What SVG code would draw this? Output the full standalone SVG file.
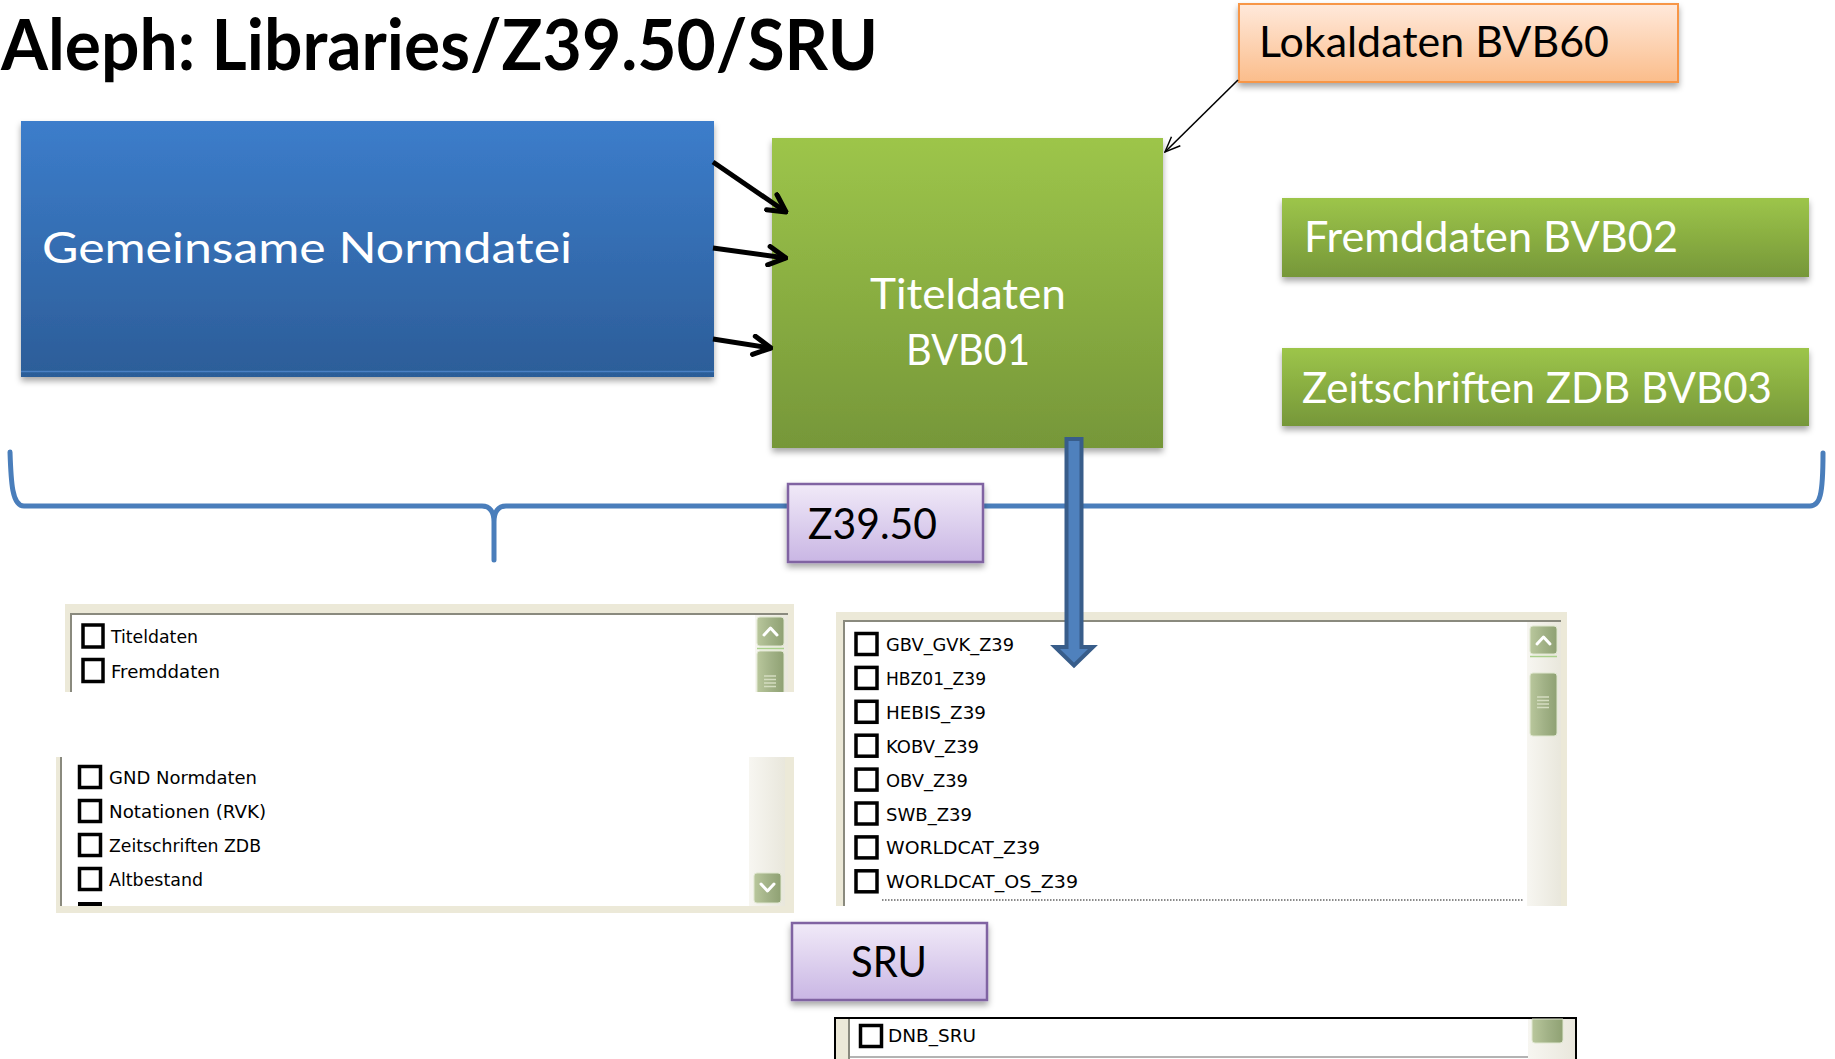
<svg xmlns="http://www.w3.org/2000/svg" width="1835" height="1059" viewBox="0 0 1835 1059">
<style>
.lbl{font-family:Lato,"Open Sans","Liberation Sans",sans-serif;font-size:42px;}
.wht{fill:#fff;}
.blk{fill:#000;}
.item{font-family:"DejaVu Sans","Liberation Sans",sans-serif;font-size:18px;fill:#000;}
.cb{fill:#fff;stroke:#000;stroke-width:3.5;}
.beige{fill:#ece9d8;}
.sunk{stroke:#8a8a7e;stroke-width:2;fill:none;}
.olive{fill:url(#gOlive);stroke:#dfe6cf;stroke-width:1;}
.chev{fill:none;stroke:#fff;stroke-width:3;stroke-linecap:round;stroke-linejoin:round;}
.grip{stroke:#d4ddc0;stroke-width:1.5;}
.conn{fill:none;stroke:#000;stroke-width:5;marker-end:url(#head);}
</style>
<defs>
<linearGradient id="gBlue" x1="0" y1="0" x2="0" y2="1"><stop offset="0" stop-color="#3c7dcb"/><stop offset="1" stop-color="#2c5d98"/></linearGradient>
<linearGradient id="gGreen" x1="0" y1="0" x2="0" y2="1"><stop offset="0" stop-color="#9dc54a"/><stop offset="1" stop-color="#769739"/></linearGradient>
<linearGradient id="gOrange" x1="0" y1="0" x2="0" y2="1"><stop offset="0" stop-color="#ffe9db"/><stop offset="1" stop-color="#fbbd8b"/></linearGradient>
<linearGradient id="gPurple" x1="0" y1="0" x2="0" y2="1"><stop offset="0" stop-color="#f1eaf8"/><stop offset="1" stop-color="#c9b6e4"/></linearGradient>
<linearGradient id="gOlive" x1="0" y1="0" x2="1" y2="0"><stop offset="0" stop-color="#b9c79c"/><stop offset="0.5" stop-color="#a2b287"/><stop offset="1" stop-color="#8fa173"/></linearGradient>
<linearGradient id="gTrack" x1="0" y1="0" x2="1" y2="0"><stop offset="0" stop-color="#f7f6f1"/><stop offset="1" stop-color="#e9e7dc"/></linearGradient>
<filter id="sh" x="-5%" y="-10%" width="110%" height="130%"><feDropShadow dx="0" dy="4" stdDeviation="3" flood-color="#000" flood-opacity="0.35"/></filter>
<marker id="head" viewBox="0 0 10 10" refX="9" refY="5" markerWidth="4.6" markerHeight="4.6" orient="auto"><path d="M1.5,1 L9,5 L1.5,9" fill="none" stroke="#000" stroke-width="2.2" stroke-linecap="round" stroke-linejoin="round"/></marker>
<marker id="thin" viewBox="0 0 20 20" refX="19" refY="10" markerWidth="18" markerHeight="18" markerUnits="userSpaceOnUse" orient="auto"><path d="M2,3 L19,10 L2,17" fill="none" stroke="#000" stroke-width="1.6"/></marker>
<clipPath id="clipTL"><rect x="0" y="600" width="820" height="92"/></clipPath>
</defs>

<g id="title">
<text x="1" y="70" font-family="Lato,'Open Sans','Liberation Sans',sans-serif" font-weight="bold" font-size="70" textLength="877" lengthAdjust="spacingAndGlyphs">Aleph: Libraries/Z39.50/SRU</text>
</g>

<g id="brace">
<path d="M10 452 C11 482 12 506 24 506 L482 506 C490 506 494 512 494 522 L494 560 M494 522 C494 512 498 506 506 506 L1810 506 C1820 506 1823 495 1823 453" fill="none" stroke="#4a7ebb" stroke-width="5" stroke-linecap="round" stroke-linejoin="round"/>
</g>

<g id="gnd">
<rect x="21" y="121" width="693" height="256" fill="url(#gBlue)" filter="url(#sh)"/>
<line x1="21" y1="371.5" x2="714" y2="371.5" stroke="#4a80c4" stroke-width="1.5"/>
<text class="lbl wht" x="42" y="263" textLength="530" lengthAdjust="spacingAndGlyphs">Gemeinsame Normdatei</text>
</g>

<g id="titeldaten">
<rect x="772" y="138" width="391" height="310" fill="url(#gGreen)" filter="url(#sh)"/>
<text class="lbl wht" x="968" y="309" text-anchor="middle" textLength="196" lengthAdjust="spacingAndGlyphs">Titeldaten</text>
<text class="lbl wht" x="968" y="365" text-anchor="middle" textLength="124" lengthAdjust="spacingAndGlyphs">BVB01</text>
</g>

<g id="lokaldaten">
<rect x="1239" y="4" width="439" height="78" fill="url(#gOrange)" stroke="#f79646" stroke-width="2" filter="url(#sh)"/>
<text class="lbl blk" x="1259" y="57" font-size="40" textLength="350" lengthAdjust="spacingAndGlyphs">Lokaldaten BVB60</text>
</g>

<g id="fremddaten">
<rect x="1282" y="198" width="527" height="79" fill="url(#gGreen)" filter="url(#sh)"/>
<text class="lbl wht" x="1304" y="252" font-size="41" textLength="374" lengthAdjust="spacingAndGlyphs">Fremddaten BVB02</text>
</g>

<g id="zeitschriften">
<rect x="1282" y="348" width="527" height="78" fill="url(#gGreen)" filter="url(#sh)"/>
<text class="lbl wht" x="1302" y="403" textLength="470" lengthAdjust="spacingAndGlyphs">Zeitschriften ZDB BVB03</text>
</g>

<g id="z3950">
<rect x="788" y="484" width="195" height="78" fill="url(#gPurple)" stroke="#8064a2" stroke-width="2.5" filter="url(#sh)"/>
<text class="lbl blk" x="808" y="539" textLength="129" lengthAdjust="spacingAndGlyphs">Z39.50</text>
</g>

<g id="sru">
<rect x="792" y="923" width="195" height="77" fill="url(#gPurple)" stroke="#8064a2" stroke-width="2.5" filter="url(#sh)"/>
<text class="lbl blk" x="889" y="977" font-size="38" text-anchor="middle" textLength="76" lengthAdjust="spacingAndGlyphs">SRU</text>
</g>

<g id="list-local" clip-path="url(#clipTL)">
<rect class="beige" x="65" y="604" width="729" height="90"/>
<rect x="71" y="614" width="717" height="80" fill="#fff"/>
<path class="sunk" d="M71 694 L71 614 L788 614"/>
<rect x="755" y="615" width="33" height="79" fill="url(#gTrack)"/>
<rect class="olive" x="757" y="617" width="27" height="29" rx="3"/>
<polyline class="chev" points="764,635 770.5,628 777,635"/>
<line x1="757" y1="648.5" x2="784" y2="648.5" stroke="#a9d08a" stroke-width="1.5"/>
<rect class="olive" x="757" y="651" width="27" height="60" rx="3"/>
<line class="grip" x1="764" y1="676" x2="776" y2="676"/>
<line class="grip" x1="764" y1="679.5" x2="776" y2="679.5"/>
<line class="grip" x1="764" y1="683" x2="776" y2="683"/>
<line class="grip" x1="764" y1="686.5" x2="776" y2="686.5"/>
<rect class="cb" x="83" y="625" width="20" height="22"/>
<text class="item" x="111" y="643" textLength="87" lengthAdjust="spacingAndGlyphs">Titeldaten</text>
<rect class="cb" x="83" y="659.5" width="20" height="22"/>
<text class="item" x="111" y="678" textLength="109" lengthAdjust="spacingAndGlyphs">Fremddaten</text>
</g>

<g id="list-bvb">
<rect class="beige" x="56" y="757" width="738" height="156"/>
<rect x="62" y="757" width="688" height="149" fill="#fff"/>
<line class="sunk" x1="61" y1="757" x2="61" y2="906"/>
<rect x="749" y="757" width="36" height="149" fill="url(#gTrack)"/>
<rect class="olive" x="754" y="873" width="27" height="30" rx="3"/>
<polyline class="chev" points="761,884 767.5,891 774,884"/>
<rect class="cb" x="79.5" y="766.5" width="21" height="21"/>
<text class="item" x="109" y="784" textLength="148" lengthAdjust="spacingAndGlyphs">GND Normdaten</text>
<rect class="cb" x="79.5" y="800.5" width="21" height="21"/>
<text class="item" x="109" y="818" textLength="157" lengthAdjust="spacingAndGlyphs">Notationen (RVK)</text>
<rect class="cb" x="79.5" y="834.5" width="21" height="21"/>
<text class="item" x="109" y="852" textLength="152" lengthAdjust="spacingAndGlyphs">Zeitschriften ZDB</text>
<rect class="cb" x="79.5" y="868.5" width="21" height="21"/>
<text class="item" x="109" y="886" textLength="94" lengthAdjust="spacingAndGlyphs">Altbestand</text>
<rect x="78" y="902" width="24" height="4" fill="#000"/>
</g>

<g id="list-z39">
<rect class="beige" x="836" y="612" width="731" height="294"/>
<rect x="845" y="622" width="682" height="284" fill="#fff"/>
<path class="sunk" d="M844 906 L844 621 L1561 621"/>
<rect x="1527" y="622" width="34" height="284" fill="url(#gTrack)"/>
<rect class="olive" x="1530" y="626" width="27" height="28" rx="3"/>
<polyline class="chev" points="1537,644 1543.5,637 1550,644"/>
<line x1="1530" y1="656.5" x2="1557" y2="656.5" stroke="#a9d08a" stroke-width="1.5"/>
<rect class="olive" x="1530" y="673" width="27" height="63" rx="3"/>
<line class="grip" x1="1537" y1="697" x2="1549" y2="697"/>
<line class="grip" x1="1537" y1="700.5" x2="1549" y2="700.5"/>
<line class="grip" x1="1537" y1="704" x2="1549" y2="704"/>
<line class="grip" x1="1537" y1="707.5" x2="1549" y2="707.5"/>
<line x1="882" y1="900" x2="1524" y2="900" stroke="#8a8a8a" stroke-width="2" stroke-dasharray="1.5 1.5"/>
<g>
<rect class="cb" x="856" y="633.5" width="21" height="21"/>
<text class="item" x="886" y="651" textLength="128" lengthAdjust="spacingAndGlyphs">GBV_GVK_Z39</text>
<rect class="cb" x="856" y="667.4" width="21" height="21"/>
<text class="item" x="886" y="684.9" textLength="100" lengthAdjust="spacingAndGlyphs">HBZ01_Z39</text>
<rect class="cb" x="856" y="701.3" width="21" height="21"/>
<text class="item" x="886" y="718.8" textLength="100" lengthAdjust="spacingAndGlyphs">HEBIS_Z39</text>
<rect class="cb" x="856" y="735.2" width="21" height="21"/>
<text class="item" x="886" y="752.7" textLength="93" lengthAdjust="spacingAndGlyphs">KOBV_Z39</text>
<rect class="cb" x="856" y="769.1" width="21" height="21"/>
<text class="item" x="886" y="786.6" textLength="82" lengthAdjust="spacingAndGlyphs">OBV_Z39</text>
<rect class="cb" x="856" y="803" width="21" height="21"/>
<text class="item" x="886" y="820.5" textLength="86" lengthAdjust="spacingAndGlyphs">SWB_Z39</text>
<rect class="cb" x="856" y="836.9" width="21" height="21"/>
<text class="item" x="886" y="854.4" textLength="154" lengthAdjust="spacingAndGlyphs">WORLDCAT_Z39</text>
<rect class="cb" x="856" y="870.8" width="21" height="21"/>
<text class="item" x="886" y="888.3" textLength="192" lengthAdjust="spacingAndGlyphs">WORLDCAT_OS_Z39</text>
</g>
</g>

<g id="list-sru">
<rect x="835" y="1018" width="741" height="45" fill="#fff" stroke="#000" stroke-width="2"/>
<rect class="beige" x="836" y="1019" width="12" height="40"/>
<line class="sunk" x1="849" y1="1019" x2="849" y2="1059"/>
<rect x="1528" y="1019" width="47" height="40" fill="url(#gTrack)"/>
<path d="M1532 1019 L1563 1019 L1563 1040 Q1563 1043 1560 1043 L1535 1043 Q1532 1043 1532 1040 Z" fill="url(#gOlive)" stroke="#dfe6cf" stroke-width="1"/>
<line x1="850" y1="1057" x2="1528" y2="1057" stroke="#9a9a9a" stroke-width="1.5"/>
<rect class="cb" x="860.5" y="1025.5" width="21" height="21"/>
<text class="item" x="888" y="1042" textLength="88" lengthAdjust="spacingAndGlyphs">DNB_SRU</text>
</g>

<g id="connectors">
<line class="conn" x1="713" y1="162" x2="786" y2="212"/>
<line class="conn" x1="713" y1="248" x2="786" y2="258"/>
<line class="conn" x1="713" y1="339" x2="771" y2="348"/>
<line x1="1238" y1="80" x2="1165" y2="152" stroke="#000" stroke-width="1.6" marker-end="url(#thin)"/>
<path d="M1066.5 439 L1081.5 439 L1081.5 647 L1093 647 L1074 665.5 L1055 647 L1066.5 647 Z" fill="#4f81bd" stroke="#385d8a" stroke-width="4" stroke-linejoin="miter"/>
</g>
</svg>
